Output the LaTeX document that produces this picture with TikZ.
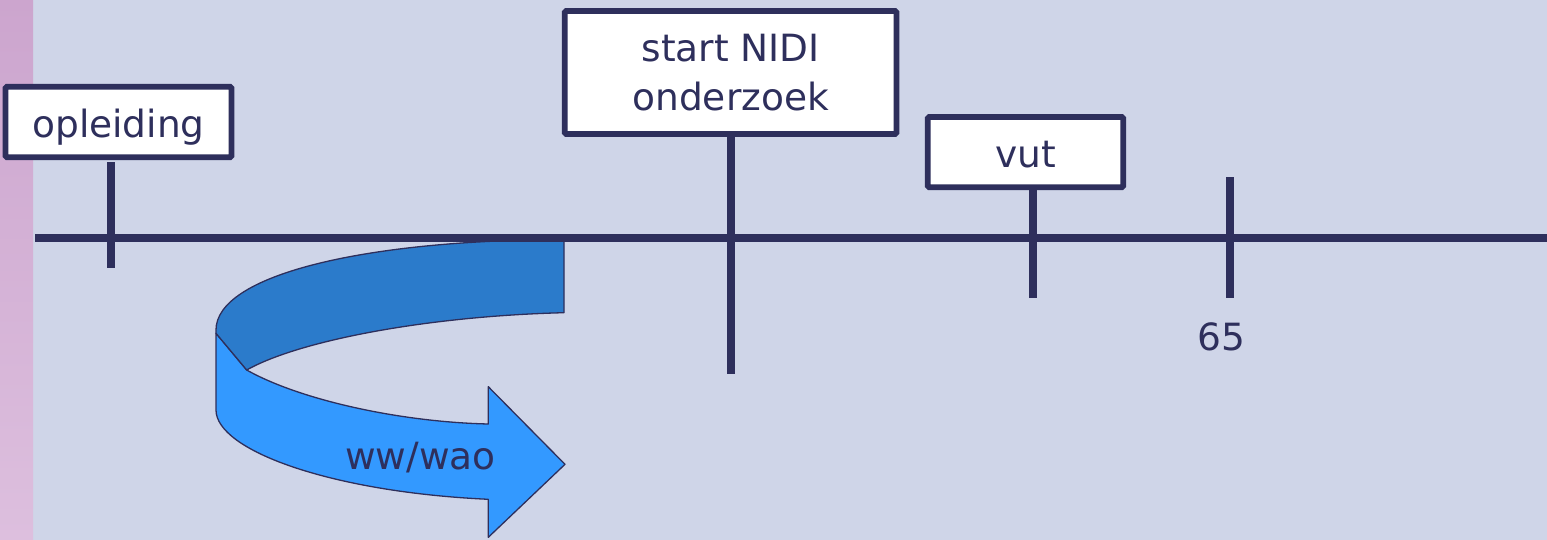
\documentclass[tikz,border=0pt]{standalone}
\usepackage{fontspec}
\setmainfont{DejaVu Sans}
\begin{document}
\begin{tikzpicture}[x=1pt,y=-1pt,
  tl/.style={draw=navyc,line width=8pt},
  tagbox/.style={draw=navyc,line width=5.8pt,fill=white,rounded corners=1.5pt,inner sep=0pt,
     text=navyc,font=\fontsize{37.5}{49.4}\selectfont},
  onebox/.style={tagbox,text height=33pt,text depth=2.5pt},
  lbl/.style={text=navyc,font=\fontsize{37.5}{49.4}\selectfont,inner sep=0pt,anchor=base},
  band/.style={draw=navyc,line width=1.3pt,line join=round}
]
\definecolor{navyc}{RGB}{46,47,92}
\definecolor{bgc}{RGB}{207,213,232}
\definecolor{stript}{RGB}{204,165,206}
\definecolor{stripb}{RGB}{221,191,222}
\definecolor{darkband}{RGB}{43,123,203}
\definecolor{lightband}{RGB}{51,153,255}
\useasboundingbox (0,0) rectangle (1547,540);
\fill[bgc] (0,0) rectangle (1547,540);
\shade[top color=stript,bottom color=stripb] (0,0) rectangle (33,540);

% curved arrow
\fill[lightband,band] (216,333.3) -- (246.7,370) .. controls (300,400) and (400,422) .. (488.3,424)
  -- (488.3,386.7) -- (565,464.3) -- (488.3,537.3) -- (488.3,499.3)
  .. controls (330,492) and (216,450) .. (216,410) -- cycle;
\fill[darkband,band] (564,239.5) .. controls (360,240) and (216,276) .. (216,330) -- (216,333.3)
  -- (246.7,370) .. controls (300,340) and (430,316) .. (564,312.7) -- cycle;
\node[lbl] (ww) at (420.5,469.3) {ww/wao};

% boxes
\node[onebox,minimum width=226pt,minimum height=70.5pt] (op) at (118.5,122) {opleiding};
\node[tagbox,align=center,minimum width=331.8pt,minimum height=122.9pt] (nidi) at (730.65,72.5) {start NIDI\\onderzoek};
\node[onebox,minimum width=195.5pt,minimum height=70.2pt] (vut) at (1025.5,152.15) {vut};

% axis
\coordinate (axl) at (35,237.5);
\coordinate (axr) at (1547,237.5);
\draw[tl] (axl) -- (axr);

% ticks
\coordinate (opt) at (111,162.3);
\coordinate (opb) at (111,267.7);
\draw[tl] (opt) -- (opb);
\coordinate (nidib) at (731,374);
\draw[tl] (nidi.south -| nidib) -- (nidib);
\coordinate (vutb) at (1033,298.3);
\draw[tl] (vut.south -| vutb) -- (vutb);
\coordinate (sft) at (1229.5,177.3);
\coordinate (sfb) at (1229.5,298.3);
\draw[tl] (sft) -- (sfb);
\node[lbl] (age) at (1221.3,350) {65};
\end{tikzpicture}
\end{document}
